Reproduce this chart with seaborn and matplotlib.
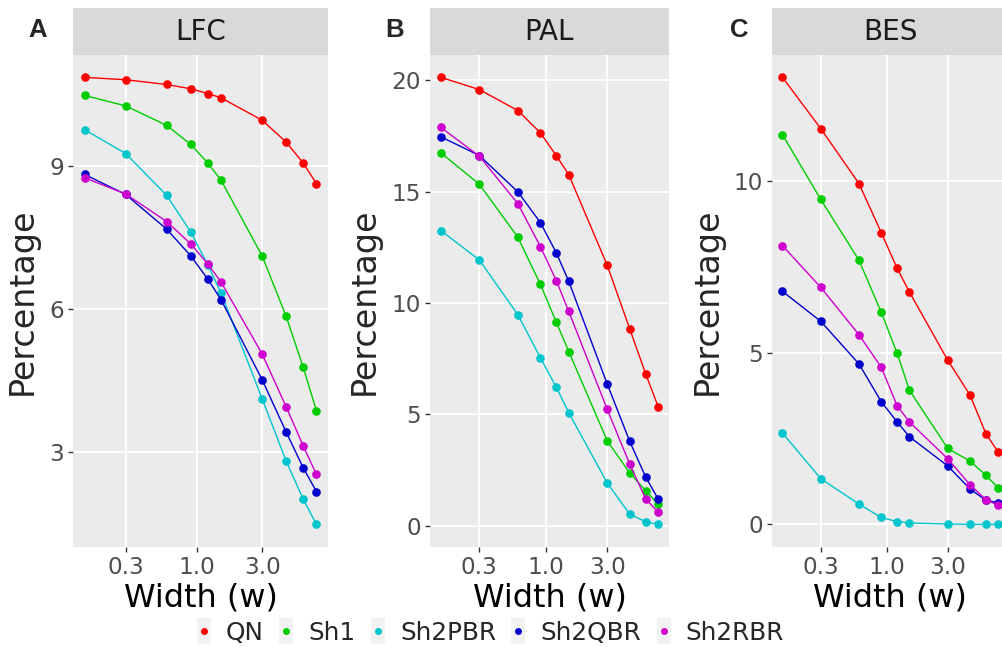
import numpy as np
import pandas as pd
import matplotlib
matplotlib.use("Agg")
import matplotlib.pyplot as plt
import seaborn as sns
from matplotlib.lines import Line2D

# widths (x) shared by all panels
widths = [0.15, 0.3, 0.6, 0.9, 1.2, 1.5, 3.0, 4.5, 6.0, 7.5]
methods = ["QN", "Sh1", "Sh2PBR", "Sh2QBR", "Sh2RBR"]
colors = {"QN": "#FF0000", "Sh1": "#00CD00", "Sh2PBR": "#00C5CD",
          "Sh2QBR": "#0000CD", "Sh2RBR": "#CD00CD"}

# percentages
lfc_qn = [10.87, 10.82, 10.72, 10.63, 10.53, 10.44, 9.97, 9.51, 9.07, 8.64]
lfc_sh1 = [10.49, 10.27, 9.86, 9.46, 9.07, 8.71, 7.12, 5.85, 4.78, 3.87]
lfc_pbr = [9.77, 9.27, 8.39, 7.62, 6.93, 6.34, 4.12, 2.81, 2.01, 1.48]
lfc_qbr = [8.83, 8.41, 7.68, 7.12, 6.63, 6.20, 4.52, 3.42, 2.67, 2.17]
lfc_rbr = [8.76, 8.42, 7.84, 7.37, 6.95, 6.57, 5.06, 3.95, 3.13, 2.53]

pal_qn = [20.13, 19.58, 18.64, 17.64, 16.61, 15.76, 11.69, 8.83, 6.81, 5.35]
pal_sh1 = [16.74, 15.33, 12.95, 10.84, 9.13, 7.82, 3.81, 2.36, 1.57, 0.96]
pal_pbr = [13.25, 11.93, 9.47, 7.54, 6.21, 5.07, 1.92, 0.51, 0.18, 0.06]
pal_qbr = [17.46, 16.62, 14.99, 13.61, 12.25, 10.97, 6.36, 3.78, 2.18, 1.20]
pal_rbr = [17.88, 16.59, 14.46, 12.53, 11.00, 9.62, 5.22, 2.76, 1.20, 0.60]

bes_qn = [13.01, 11.52, 9.92, 8.49, 7.45, 6.76, 4.78, 3.76, 2.64, 2.10]
bes_sh1 = [11.34, 9.46, 7.69, 6.17, 4.98, 3.90, 2.21, 1.84, 1.43, 1.06]
bes_pbr = [2.66, 1.33, 0.59, 0.20, 0.08, 0.04, 0.01, 0.0, 0.0, 0.0]
bes_qbr = [6.78, 5.91, 4.67, 3.57, 2.98, 2.55, 1.70, 1.03, 0.70, 0.63]
bes_rbr = [8.11, 6.90, 5.52, 4.57, 3.45, 2.98, 1.91, 1.15, 0.72, 0.55]

panels = [
    ("A", "LFC", [lfc_qn, lfc_sh1, lfc_pbr, lfc_qbr, lfc_rbr], [3, 6, 9]),
    ("B", "PAL", [pal_qn, pal_sh1, pal_pbr, pal_qbr, pal_rbr], [0, 5, 10, 15, 20]),
    ("C", "BES", [bes_qn, bes_sh1, bes_pbr, bes_qbr, bes_rbr], [0, 5, 10]),
]

W, H = 1003, 647
fig = plt.figure(figsize=(W / 100, H / 100), dpi=100)
sns.set_style("white")
plt.rcParams["font.family"] = ["DejaVu Sans"]

# pixel boxes: (plot left, plot right, y label x, tag x); panel C runs off the edge
boxes = [(73, 328, 22, 37.5), (430, 669, 364, 395), (771.7, 1009, 707, 739)]
top, bottom, strip_top = 55, 546.7, 8

lx = np.log10(widths)
xpad = (lx.max() - lx.min()) * 0.05
xlim = (10 ** (lx.min() - xpad), 10 ** (lx.max() + xpad))

for (tag, name, series, yticks), (x0, x1, ylab_x, tag_x) in zip(panels, boxes):
    df = pd.DataFrame({
        "width": widths * len(methods),
        "pct": np.concatenate(series),
        "method": np.repeat(methods, len(widths)),
    })
    ax = fig.add_axes([x0 / W, 1 - bottom / H, (x1 - x0) / W, (bottom - top) / H])
    ax.set_facecolor("#EBEBEB")
    sns.lineplot(data=df, x="width", y="pct", hue="method", palette=colors,
                 marker="o", markersize=6.2, markeredgewidth=0, linewidth=1.0,
                 legend=False, ax=ax, zorder=3)
    ax.set_xscale("log")
    ax.set_xlim(xlim)
    lo, hi = df.pct.min(), df.pct.max()
    pad = (hi - lo) * 0.05
    ax.set_ylim(lo - pad, hi + pad)
    ax.set_xticks([0.3, 1.0, 3.0])
    ax.set_xticklabels(["0.3", "1.0", "3.0"])
    ax.xaxis.set_minor_locator(matplotlib.ticker.NullLocator())
    ax.set_yticks(yticks)
    ax.grid(True, color="white", linewidth=1.3)
    ax.set_axisbelow(True)
    for s in ax.spines.values():
        s.set_visible(False)
    ax.tick_params(axis="both", length=3.5, width=1.0, color="#333333",
                   labelcolor="#4D4D4D", labelsize=16.7, pad=3, direction="out",
                   bottom=True, left=True)
    ax.set_xlabel("Width (w)", fontsize=23, color="black", labelpad=3)
    ax.set_ylabel("")
    fig.text(ylab_x / W, 1 - (top + bottom) / 2 / H, "Percentage", rotation=90,
             ha="center", va="center", fontsize=24)

    strip = fig.add_axes([x0 / W, 1 - top / H, (x1 - x0) / W, (top - strip_top) / H])
    strip.set_facecolor("#D9D9D9")
    strip.set_xticks([])
    strip.set_yticks([])
    for s in strip.spines.values():
        s.set_visible(False)
    strip.text(0.5, 0.5, name, ha="center", va="center", fontsize=20,
               color="#1A1A1A", transform=strip.transAxes)

    fig.text(tag_x / W, 1 - 30 / H, tag, ha="center", va="center", fontsize=18.5,
             fontweight="bold", family=["Liberation Sans", "DejaVu Sans"])

# legend keys: faint grey key box behind each dot
box = [(-0.26, -0.5), (0.26, -0.5), (0.26, 0.5), (-0.26, 0.5), (-0.26, -0.5)]
handles = [(Line2D([], [], linestyle="none", marker=box, markersize=19,
                   markerfacecolor="#F2F2F2", markeredgewidth=0),
            Line2D([], [], linestyle="none", marker="o", markersize=5,
                   markerfacecolor=colors[m], markeredgewidth=0)) for m in methods]
fig.legend(handles, methods, loc="center", bbox_to_anchor=(489 / W, 1 - 633 / H),
           ncol=5, frameon=False, fontsize=17.8, handlelength=0.8,
           handletextpad=0.5, columnspacing=0.5, borderpad=0)

fig.savefig("out.png", dpi=100)
